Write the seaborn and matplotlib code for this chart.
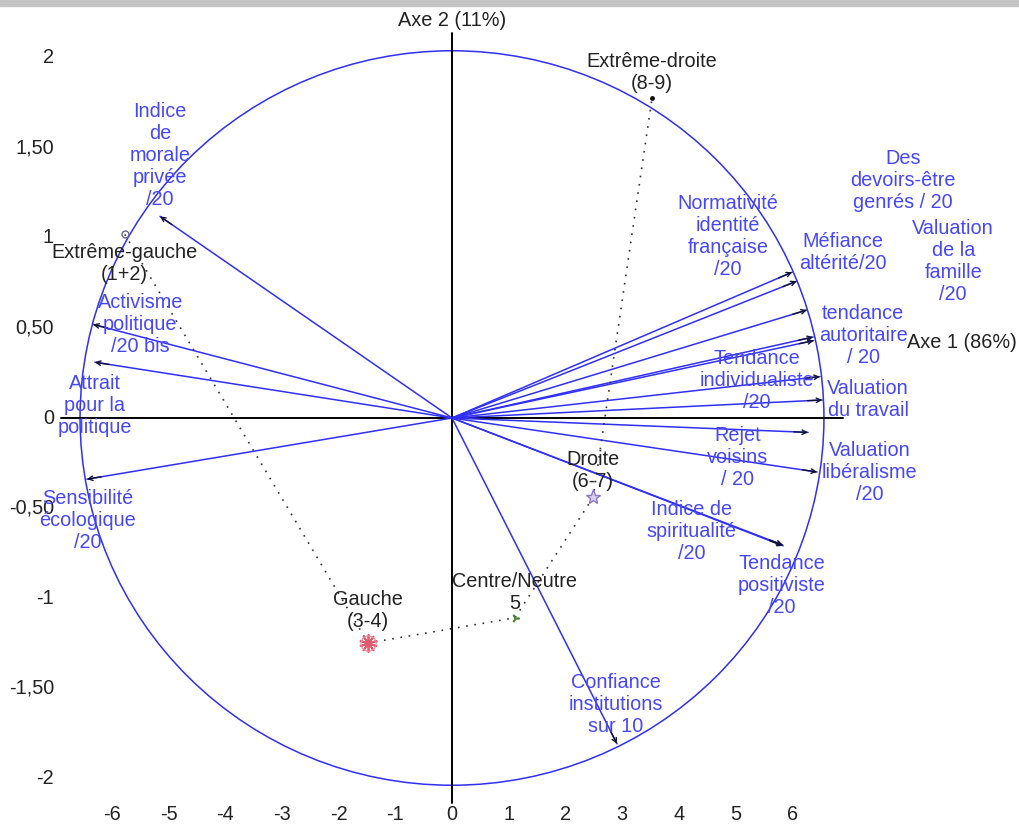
import matplotlib
matplotlib.use("Agg")
import matplotlib.pyplot as plt
import seaborn as sns
import pandas as pd
from matplotlib.patches import Ellipse, Rectangle


# variables (coordonnees des fleches)
var_names = [
    "Indice\nde\nmorale\nprivée\n/20",
    "Activisme\npolitique\n/20 bis",
    "Attrait\npour la\npolitique",
    "Sensibilité\nécologique\n/20",
    "Normativité\nidentité\nfrançaise\n/20",
    "Méfiance\naltérité/20",
    "Des\ndevoirs-être\ngenrés / 20",
    "Valuation\nde la\nfamille\n/20",
    "tendance\nautoritaire\n/ 20",
    "Tendance\nindividualiste\n/20",
    "Valuation\ndu travail",
    "Rejet\nvoisins\n/ 20",
    "Valuation\nlibéralisme\n/20",
    "Indice de\nspiritualité\n/20",
    "Tendance\npositiviste\n/20",
    "Confiance\ninstitutions\nsur 10",
]
var_x = [-5.15, -6.33, -6.30, -6.44, 6.00, 6.08, 6.26, 6.37, 6.38, 6.49,
         6.53, 6.28, 6.44, 5.83, 5.84, 2.91]
var_y = [1.12, 0.52, 0.31, -0.34, 0.81, 0.76, 0.60, 0.45, 0.43, 0.23,
         0.10, -0.08, -0.30, -0.705, -0.71, -1.81]
# position des etiquettes
var_lab_x = [-5.15, -5.50, -6.30, -6.42, 4.87, 6.90, 7.95, 8.84, 7.25, 5.38,
             7.34, 5.03, 7.37, 4.23, 5.82, 2.89]
var_lab_y = [1.46, 0.52, 0.07, -0.57, 1.01, 0.92, 1.32, 0.87, 0.46, 0.21,
             0.10, -0.22, -0.30, -0.63, -0.93, -1.59]

# modalites (positionnement politique)
cat_names = ["Extrême-gauche\n(1+2)", "Gauche\n(3-4)", "Centre/Neutre\n5",
             "Droite\n(6-7)", "Extrême-droite\n(8-9)"]
cat_x = [-5.77, -1.48, 1.11, 2.49, 3.53]
cat_y = [1.02, -1.25, -1.11, -0.44, 1.78]
cat_lab_x = [-5.78, -1.48, 1.11, 2.49, 3.53]
cat_lab_y = [0.86, -1.07, -0.97, -0.29, 1.92]

x_ticks = [-6, -5, -4, -3, -2, -1, 0, 1, 2, 3, 4, 5, 6]
y_ticks = [2, 1.5, 1, 0.5, 0, -0.5, -1, -1.5, -2]
y_tick_labels = ["2", "1,50", "1", "0,50", "0", "-0,50", "-1", "-1,50", "-2"]

BLUE_LINE = "#2f2ff5"
BLUE_TEXT = "#4646ff"
FS = 14.3
LS = 1.2

sns.set_style("white")
plt.rcParams["font.family"] = ["Liberation Sans", "DejaVu Sans"]

fig = plt.figure(figsize=(10.2, 8.27), dpi=100)
ax = fig.add_axes([0, 0, 1, 1])
ax.set_xlim(-7.972, 10.018)
ax.set_ylim(-2.272, 2.322)
ax.axis("off")

# bandeau gris en haut (capture d'ecran)
fig.patches.append(Rectangle((0, 1 - 6 / 827), 1, 6 / 827, transform=fig.transFigure,
                             color="#c4c4c4", zorder=0))

# axes
ax.plot([-6.9, 6.9], [0, 0], color="black", lw=1.4)
ax.plot([0, 0], [-2.14, 2.14], color="black", lw=1.4)
ax.text(0, 2.21, "Axe 2 (11%)", ha="center", va="center", fontsize=FS, color="#222222")
ax.text(8.99, 0.42, "Axe 1 (86%)", ha="center", va="center", fontsize=FS, color="#222222")

# cercle
ax.add_patch(Ellipse((0, 0), 2 * 6.56, 2 * 2.04, fill=False, edgecolor=BLUE_LINE, lw=1.1))

# graduations
for t in x_ticks:
    ax.text(t, -2.205, str(t), ha="center", va="center", fontsize=FS, color="#222222")
for t, lab in zip(y_ticks, y_tick_labels):
    ax.text(-7.02, t, lab, ha="right", va="center", fontsize=FS, color="#222222")

# fleches des variables
for name, x, y, lx, ly in zip(var_names, var_x, var_y, var_lab_x, var_lab_y):
    ax.plot([0, x], [0, y], color=BLUE_LINE, lw=1.1)
    ax.annotate("", xy=(x, y), xytext=(0.96 * x, 0.96 * y),
                arrowprops=dict(arrowstyle="->", color="#111133", lw=1.0,
                                mutation_scale=8, shrinkA=0, shrinkB=0))
    ax.text(lx, ly, name, ha="center", va="center", fontsize=FS, color=BLUE_TEXT,
            linespacing=LS)

# trajectoire des modalites
path = pd.DataFrame({"x": cat_x, "y": cat_y, "ordre": range(len(cat_x))})
sns.lineplot(data=path, x="x", y="y", sort=False, estimator=None, ax=ax,
             color="#333333", lw=1.2, linestyle=(0, (1, 4)))

ax.plot(cat_x[0], cat_y[0], marker="o", ms=5, mfc="none", mec="#666688", mew=1)
ax.plot(cat_x[1], cat_y[1], marker=(10, 2, 0), ms=13, color="#e05a70", mew=1.3)
ax.plot(cat_x[1], cat_y[1], marker="o", ms=11, mfc="none", mec="#e88a98", mew=0.8)
ax.plot(cat_x[2], cat_y[2], marker=(3, 2, 30), ms=6, color="#4a8a2a", mew=1.2)
ax.plot(cat_x[3], cat_y[3], marker="*", ms=11, mfc="#d8d0ec", mec="#8a78c0", mew=1)
ax.plot(cat_x[4], cat_y[4], marker="o", ms=2.5, color="#111111")

for name, lx, ly in zip(cat_names, cat_lab_x, cat_lab_y):
    ax.text(lx, ly, name, ha="center", va="center", fontsize=FS, color="#222222",
            linespacing=LS)

fig.savefig("out.png", dpi=100)
